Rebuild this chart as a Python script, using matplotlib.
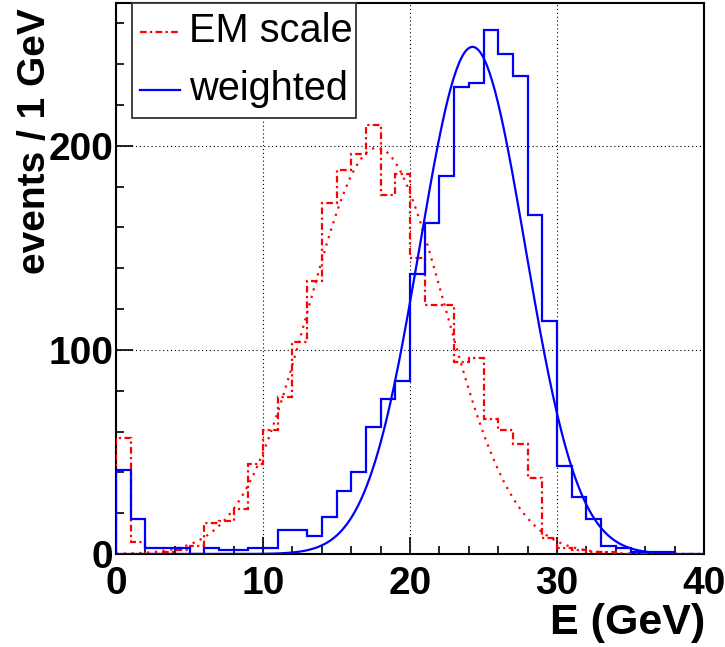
import numpy as np
import matplotlib
matplotlib.use("Agg")
import matplotlib.pyplot as plt
from matplotlib import font_manager as fm
from matplotlib.patches import Rectangle
from matplotlib.lines import Line2D

# ---------------- data ----------------
bin_edges = list(range(0, 41))  # 1 GeV bins, 0..40 GeV

em_scale = [57, 6, 0, 1, 2, 4, 15, 16, 22, 44,
            61, 77, 104, 134, 172, 188, 196, 210, 176, 186,
            145, 122, 122, 94, 96, 66, 61, 54, 37, 8,
            3, 2, 1, 1, 0, 0, 0, 0, 0, 0]

weighted = [41, 17, 3, 3, 3, 0, 3, 2, 2, 3,
            3, 12, 12, 9, 18, 31, 40, 62, 76, 85,
            137, 162, 185, 229, 231, 257, 245, 234, 166, 114,
            43, 28, 17, 4, 3, 1, 1, 1, 0, 0]

# Gaussian fit parameters: amplitude, mean, sigma, range
em_fit = [199.0, 17.75, 4.65, 0.0, 40.0]
w_fit = [248.5, 24.25, 3.59, 0.0, 38.0]

legend_labels = ["EM scale", "weighted"]
xlabel = "E (GeV)"
ylabel = "events / 1 GeV"
xticks = [0, 10, 20, 30, 40]
yticks = [0, 100, 200]

# ---------------- fonts ----------------
names = {f.name for f in fm.fontManager.ttflist}
NARROW = "Liberation Sans Narrow" if "Liberation Sans Narrow" in names else "Liberation Sans"
REG = "Liberation Sans" if "Liberation Sans" in names else "DejaVu Sans"
BIG = 33.5 if NARROW == "Liberation Sans Narrow" else 28

W, H = 725, 647
fig = plt.figure(figsize=(W / 100, H / 100), dpi=100)
fx = lambda px: px / W
fy = lambda py: 1 - py / H

ax = fig.add_axes([fx(116), fy(554), (704 - 116) / W, (554 - 3) / H])
ax.set_xlim(0, 40)
ax.set_ylim(0, 270)

red = "#ff0000"
blue = "#0000ff"

# histograms
ax.stairs(em_scale, bin_edges, color=red, lw=1.6, linestyle=(0, (3, 1.5, 1, 1.5)), zorder=3)
xs = np.linspace(em_fit[3], em_fit[4], 400)
ax.plot(xs, em_fit[0] * np.exp(-0.5 * ((xs - em_fit[1]) / em_fit[2]) ** 2),
        color=red, lw=1.6, linestyle=(0, (1, 2.5)), zorder=3)

ax.stairs(weighted, bin_edges, color=blue, lw=1.6, zorder=4)
xs = np.linspace(w_fit[3], w_fit[4], 400)
ax.plot(xs, w_fit[0] * np.exp(-0.5 * ((xs - w_fit[1]) / w_fit[2]) ** 2),
        color=blue, lw=1.6, zorder=4)

# grid
ax.set_xticks(xticks)
ax.set_yticks(yticks)
ax.set_xticks(np.arange(0, 41, 2), minor=True)
ax.set_yticks(np.arange(0, 270, 20), minor=True)
ax.grid(True, which="major", color="black", lw=0.8, linestyle=(0, (1, 2.5)))
ax.set_axisbelow(True)

ax.tick_params(which="major", direction="in", length=12, width=1.2,
               top=False, right=False, labelsize=BIG)
ax.tick_params(which="minor", direction="in", length=6, width=1.2,
               top=False, right=False)
ax.tick_params(axis="x", which="major", pad=9)
ax.tick_params(axis="y", which="major", pad=2)
for lab in ax.get_xticklabels() + ax.get_yticklabels():
    lab.set_fontfamily(NARROW)
    lab.set_fontweight("bold")

for s in ax.spines.values():
    s.set_linewidth(1.5)
    s.set_color("black")

# axis titles
fig.text(fx(705), fy(634), xlabel, ha="right", va="baseline",
         fontsize=31, fontweight="bold", family=REG)
fig.text(fx(35), fy(8), ylabel, ha="center", va="top", rotation=90,
         fontsize=BIG, fontweight="bold", family=NARROW)

# legend (ROOT style box)
box = Rectangle((fx(132), fy(118)), (356 - 132) / W, (118 - 3) / H,
                transform=fig.transFigure, facecolor="white",
                edgecolor="#333333", lw=1.3, zorder=10)
fig.add_artist(box)
fig.add_artist(Line2D([fx(140), fx(180)], [fy(32), fy(32)], transform=fig.transFigure,
                      color=red, lw=1.6, linestyle=(0, (3, 1.5, 1, 1.5)), zorder=11))
fig.add_artist(Line2D([fx(140), fx(180)], [fy(90), fy(90)], transform=fig.transFigure,
                      color=blue, lw=1.6, zorder=11))
fig.text(fx(189), fy(42), legend_labels[0], ha="left", va="baseline",
         fontsize=28.6, family=REG, zorder=12)
fig.text(fx(189), fy(100), legend_labels[1], ha="left", va="baseline",
         fontsize=28.6, family=REG, zorder=12)

fig.savefig("out.png", dpi=100)
